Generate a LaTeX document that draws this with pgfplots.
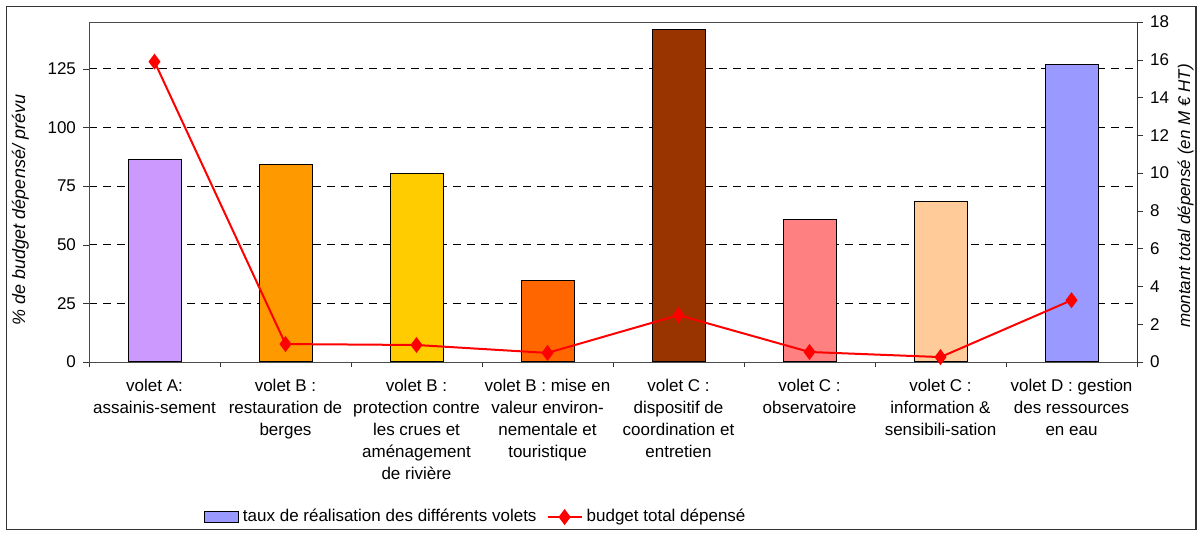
\documentclass[border=0pt]{standalone}
\usepackage{pgfplots}
\pgfplotsset{compat=1.18}
\usepackage{fontspec}
\setmainfont{Liberation Sans}
\definecolor{cA}{HTML}{CC99FF}
\definecolor{cB1}{HTML}{FF9900}
\definecolor{cB2}{HTML}{FFCC00}
\definecolor{cB3}{HTML}{FF6600}
\definecolor{cC1}{HTML}{993300}
\definecolor{cC2}{HTML}{FF8080}
\definecolor{cC3}{HTML}{FFCC99}
\definecolor{cD}{HTML}{9999FF}
\newcommand{\fs}{\fontsize{8.5}{11}\selectfont}
\begin{document}
\begin{tikzpicture}
\path[use as bounding box] (0,0) rectangle (600pt,-266.5pt);
\draw[black!80, line width=0.6pt] (3.25pt,-3.25pt) rectangle (598pt,-264.75pt);
\begin{axis}[
  at={(44.5pt,-181pt)}, anchor=south west,
  scale only axis, width=524pt, height=170pt,
  xmin=-0.5, xmax=7.5, ymin=0, ymax=145,
  ytick={0,25,...,125},
  xtick={0,...,7},
  xticklabels={
    {volet A:\\assainis-sement},
    {volet B :\\restauration de\\berges},
    {volet B :\\protection contre\\les crues et\\aménagement\\de rivière},
    {volet B : mise en\\valeur environ-\\nementale et\\touristique},
    {volet C :\\dispositif de\\coordination et\\entretien},
    {volet C :\\observatoire},
    {volet C :\\information \&\\sensibili-sation},
    {volet D : gestion\\des ressources\\en eau}},
  xticklabel style={align=center, font=\fs, yshift=-2pt},
  yticklabel style={font=\fs},
  major x tick style={draw=none},
  minor xtick={-0.5,0.5,...,7.5},
  minor tick length=2.5pt,
  major tick length=3pt,
  tick align=outside,
  xtick pos=bottom, ytick pos=left,
  tick style={black!80},
  ymajorgrids, grid style={dash pattern=on 4pt off 3pt, black, line width=0.4pt},
  axis line style={black!70},
  ybar, bar width=26.5pt, bar shift=0pt,
  ylabel={\itshape\% de budget dépensé/ prévu},
  ylabel style={font=\fontsize{9}{11}\selectfont, yshift=2.5pt, xshift=-9pt},
  /pgf/number format/assume math mode=true,
]
\addplot[fill=cA, draw=black, line width=0.5pt] coordinates {(0,86.3)};
\addplot[fill=cB1, draw=black, line width=0.5pt] coordinates {(1,84.2)};
\addplot[fill=cB2, draw=black, line width=0.5pt] coordinates {(2,80.4)};
\addplot[fill=cB3, draw=black, line width=0.5pt] coordinates {(3,34.9)};
\addplot[fill=cC1, draw=black, line width=0.5pt] coordinates {(4,142)};
\addplot[fill=cC2, draw=black, line width=0.5pt] coordinates {(5,60.8)};
\addplot[fill=cC3, draw=black, line width=0.5pt] coordinates {(6,68.5)};
\addplot[fill=cD, draw=black, line width=0.5pt] coordinates {(7,126.7)};
\end{axis}
\begin{axis}[
  at={(44.5pt,-181pt)}, anchor=south west,
  scale only axis, width=524pt, height=170pt,
  xmin=-0.5, xmax=7.5, ymin=0, ymax=18,
  axis x line=none, axis y line*=right,
  ytick={0,2,...,18},
  yticklabel style={font=\fs},
  tick align=outside, major tick length=3pt,
  tick style={black!80},
  axis line style={black!80},
  ylabel={\itshape montant total dépensé (en M € HT)},
  ylabel style={font=\fs, yshift=2.5pt, xshift=-2pt},
  /pgf/number format/assume math mode=true,
  legend style={at={(0.370,-0.456)}, anchor=center, draw=none, fill=none,
    font=\fs, legend columns=2, /tikz/every even column/.append style={column sep=3pt}},
]
\addlegendimage{area legend, fill=cD, draw=black}
\addplot[red, line width=1pt, mark=diamond*, mark size=3.2pt, mark options={fill=red, draw=red}]
  coordinates {(0,15.9) (1,0.95) (2,0.9) (3,0.48) (4,2.48) (5,0.53) (6,0.26) (7,3.27)};
\legend{taux de réalisation des différents volets, budget total dépensé}
\end{axis}
\end{tikzpicture}
\end{document}
